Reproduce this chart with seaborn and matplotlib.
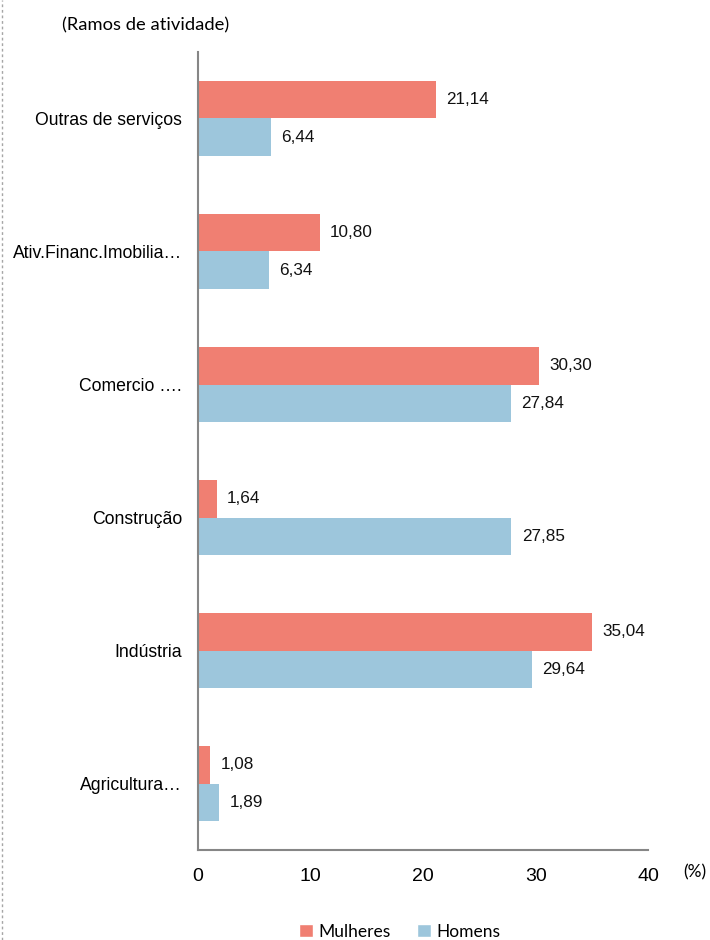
import pandas as pd
import matplotlib
matplotlib.use("Agg")
import matplotlib.pyplot as plt
from matplotlib.lines import Line2D
from matplotlib.patches import Patch
from matplotlib.ticker import MultipleLocator, FixedLocator
import seaborn as sns

# ── data ──────────────────────────────────────
ramos = ["Outras de serviços", "Ativ.Financ.Imobilia…", "Comercio ….",
         "Construção", "Indústria", "Agricultura…"]
mulheres = [21.14, 10.80, 30.30, 1.64, 35.04, 1.08]
homens = [6.44, 6.34, 27.84, 27.85, 29.64, 1.89]
series = ["Mulheres", "Homens"]
cores = {"Mulheres": "#F07F72", "Homens": "#9DC6DC"}

df = pd.DataFrame({
    "ramo": ramos * 2,
    "valor": mulheres + homens,
    "sexo": ["Mulheres"] * len(ramos) + ["Homens"] * len(ramos),
})

sns.set_style("white")
plt.rcParams["font.family"] = ["Liberation Sans", "DejaVu Sans"]

fig = plt.figure(figsize=(7.1, 9.4), dpi=100)
ax = fig.add_axes([0.279, 0.0957, 0.634, 0.849])

sns.barplot(data=df, y="ramo", x="valor", hue="sexo", order=ramos,
            hue_order=series, palette=cores, width=0.57, orient="h",
            saturation=1, linewidth=0, ax=ax, legend=False)

# value labels
for cont in ax.containers:
    for bar in cont:
        w = bar.get_width()
        ax.text(w + 0.9, bar.get_y() + bar.get_height() / 2,
                f"{w:.2f}".replace(".", ","), va="center", ha="left",
                fontsize=12.3, color="#111111")

ax.set_xlim(0, 40)
ax.set_ylim(len(ramos) - 0.5, -0.5)
ax.xaxis.set_major_locator(MultipleLocator(10))
ax.xaxis.set_minor_locator(MultipleLocator(2))
ax.yaxis.set_minor_locator(FixedLocator([i - 0.5 for i in range(len(ramos) + 1)]))

ax.tick_params(axis="x", which="major", direction="inout", length=10,
               width=1.3, color="#868686", labelsize=14, pad=8,
               labelcolor="black")
ax.tick_params(axis="x", which="minor", direction="in", length=5,
               width=1.1, color="#868686")
ax.tick_params(axis="y", which="major", length=0, labelsize=12.7, pad=11.5,
               labelcolor="black")
ax.tick_params(axis="y", which="minor", direction="out", length=6,
               width=1.1, color="#868686")

ax.set_xlabel("")
ax.set_ylabel("")
for s in ["top", "right"]:
    ax.spines[s].set_visible(False)
for s in ["left", "bottom"]:
    ax.spines[s].set_color("#868686")
    ax.spines[s].set_linewidth(1.5)

fig.text(0.088, 0.973, "(Ramos de atividade)", fontsize=13.2, color="black",
         family=["Lato", "DejaVu Sans"], ha="left", va="center")
fig.text(0.962, 0.072, "(%)", fontsize=12.5, color="black",
         family=["Lato", "DejaVu Sans"], ha="left", va="center")

handles = [Patch(facecolor=cores[s], label=s) for s in series]
leg = fig.legend(handles=handles, loc="center", bbox_to_anchor=(0.563, 0.009),
                 ncol=2, frameon=False, handlelength=0.8, handleheight=0.8,
                 handletextpad=0.3, columnspacing=1.5,
                 prop={"family": ["Lato", "DejaVu Sans"], "size": 12.5})
for t in leg.get_texts():
    t.set_color("black")

# dashed page border on the left
fig.add_artist(Line2D([0.003, 0.003], [0.0, 1.0], transform=fig.transFigure,
                      color="#A6A6A6", linestyle=(0, (2, 2)), linewidth=1))

plt.savefig("out.png", dpi=100)
plt.close()
